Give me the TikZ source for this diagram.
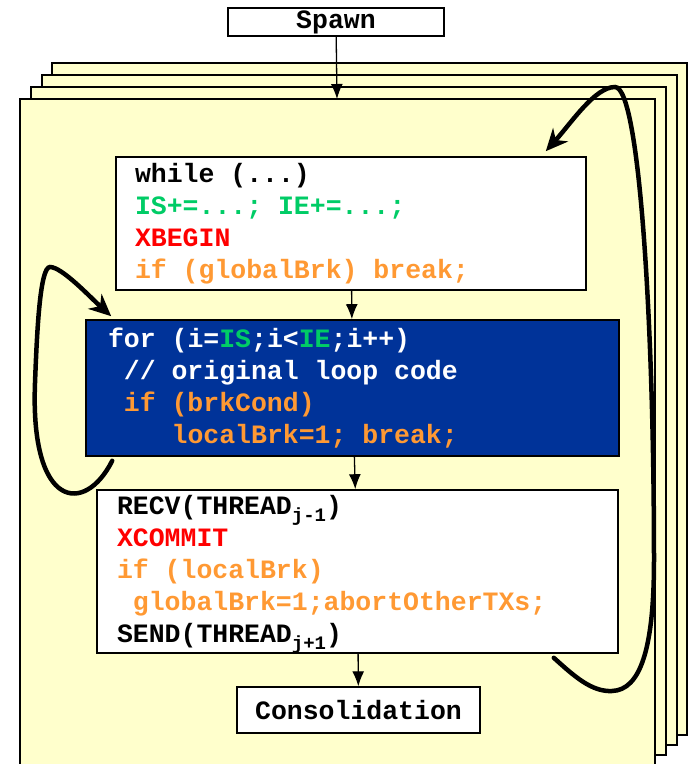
\documentclass[tikz,border=0pt]{standalone}
\usepackage{fontspec}
\setmonofont{Liberation Mono}
\usepackage{xcolor}
\usepackage{tikz}
\usetikzlibrary{arrows.meta}
\definecolor{pageyellow}{RGB}{255,255,204}
\definecolor{loopblue}{RGB}{0,51,153}
\definecolor{codegreen}{RGB}{0,204,102}
\definecolor{codered}{RGB}{255,0,0}
\definecolor{codeorange}{RGB}{255,153,51}
\newcommand{\thrsub}[1]{\smash{\raisebox{-7pt}{\fontsize{19}{19}\selectfont #1}}}
\newcommand{\codefont}{\ttfamily\bfseries\fontsize{26.5}{32}\selectfont}

\begin{document}
\begin{tikzpicture}[x=1pt,y=-1pt]
% Define styles
\tikzstyle{page} = [draw, line width=1.4pt, fill=pageyellow]
\tikzstyle{codebox} = [draw, line width=1.6pt, fill=white, align=flush left, inner ysep=0pt, font=\codefont,
  execute at begin node={\spaceskip=0.6em\xspaceskip=0.6em\relax}]
\tikzstyle{plainbox} = [draw, line width=1.4pt, fill=white, inner sep=0pt, font=\codefont]
\tikzstyle{flow} = [line width=1.3pt, -{Latex[length=15pt,width=12pt]}]
\tikzstyle{backloop} = [line width=4.5pt, line cap=round, -{Stealth[length=22pt,width=20pt,inset=7pt]}]
\useasboundingbox (0,0) rectangle (688,764);
% Stack of thread pages
\draw[page] (52,63) rectangle (687,735);
\draw[page] (42,75) rectangle (677,745);
\draw[page] (31,87) rectangle (666,755);
\fill[pageyellow] (20,99) rectangle (655,764);
\draw[line width=1.4pt] (20,764) -- (20,99) -- (655,99) -- (655,764);
\coordinate (pagetop) at (337,99);
% Define nodes
\node[plainbox, minimum width=216pt, minimum height=28pt] (spawn) at (336,22) {Spawn};
\node[codebox, inner xsep=19pt, text width=432pt, minimum height=133pt] (whilebox) at (351,223.5) {%
while (...)\\
\textcolor{codegreen}{IS+=...; IE+=...;}\\
\textcolor{codered}{XBEGIN}\\
\textcolor{codeorange}{if (globalBrk) break;}};
\node[codebox, fill=loopblue, text=white, inner xsep=22pt, text width=489pt, minimum height=136pt] (forbox) at (352.5,388) {%
for (i=\textcolor{codegreen}{IS};i<\textcolor{codegreen}{IE};i++)\\
~// original loop code\\
\textcolor{codeorange}{~if (brkCond)}\\
\textcolor{codeorange}{~~~~localBrk=1; break;}};
\node[codebox, inner xsep=20pt, text width=481pt, minimum height=163pt] (recvbox) at (357.5,571.5) {%
RECV(THREAD\thrsub{j-1})\\
\textcolor{codered}{XCOMMIT}\\
\textcolor{codeorange}{if (localBrk)}\\
\textcolor{codeorange}{~globalBrk=1;abortOtherTXs;}\\
SEND(THREAD\thrsub{j+1})};
\node[plainbox, minimum width=243pt, minimum height=46pt] (consol) at (358.5,710) {Consolidation};
% Connect the nodes
\draw[flow] (spawn) -- (pagetop);
\draw[flow] (whilebox) -- (forbox);
\draw[flow] (forbox) -- (recvbox);
\draw[flow] (recvbox) -- (consol);
% Loop back arrows
\draw[backloop] ([xshift=27pt,yshift=-4pt]forbox.south west) .. controls (85,515) and (30,510) .. (35,383)
  .. controls (37,330) and (40,267) .. (50,267) .. controls (62,267) and (90,297) .. ([xshift=26pt,yshift=3pt]forbox.north west);
\draw[backloop] ([xshift=-65pt,yshift=-4pt]recvbox.south east) .. controls (575,677) and (592,692) .. (612,691)
  .. controls (640,690) and (654,650) .. (654,560) .. controls (654,330) and (640,87) .. (615,87)
  .. controls (595,87) and (572,122) .. ([xshift=-41pt,yshift=5pt]whilebox.north east);
\end{tikzpicture}
\end{document}
